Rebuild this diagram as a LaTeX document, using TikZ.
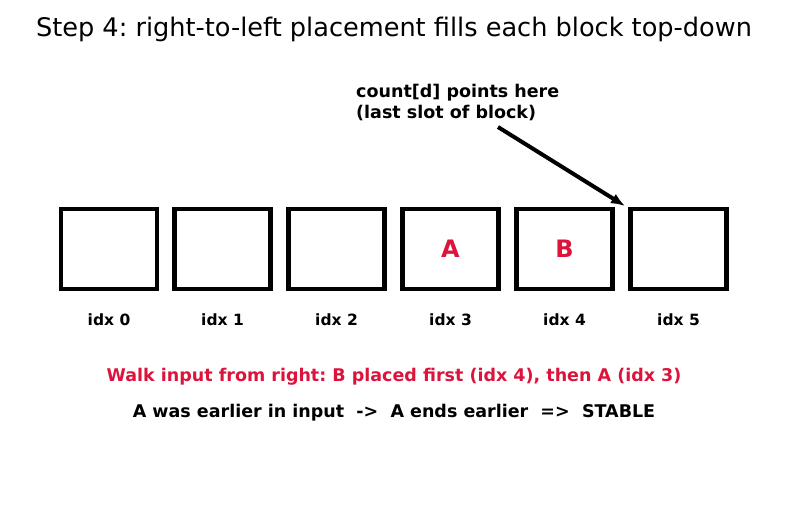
\documentclass[tikz,border=0pt]{standalone}
\usepackage{fontspec}
\setmainfont{DejaVu Sans}
\usetikzlibrary{positioning,arrows.meta}
\definecolor{walkred}{HTML}{DC143C}
\frenchspacing
\tikzset{
  slot/.style={draw,line width=4.5pt,minimum width=96pt,minimum height=80pt,inner sep=0pt},
  idxlabel/.style={font=\fontsize{15.5}{18}\selectfont\bfseries},
  letter/.style={font=\fontsize{24}{27}\selectfont\bfseries,text=walkred},
}
\begin{document}
\begin{tikzpicture}[>=Stealth,x=1pt,y=-1pt]
  \useasboundingbox (0,0) rectangle (787,512);
  \node[font=\fontsize{25.6}{29}\selectfont] (title) at (394,29) {Step 4: right-to-left placement fills each block top-down};
  % slots of the output array
  \foreach \i/\x in {0/109,1/222.5,2/336.5,3/450.5,4/564.5,5/678.5} {
    \node[slot] (s\i) at (\x,249) {};
    \node[idxlabel] (l\i) at (\x,320) {idx \i};
  }
  \node[letter] (a) at (s3) {A};
  \node[letter] (b) at (s4) {B};
  \node[font=\fontsize{17.5}{21}\selectfont\bfseries,align=left,anchor=north west,inner sep=0pt] (note) at (356,84)
    {count[d] points here\\(last slot of block)};
  \coordinate (tail) at (498,127);
  \coordinate (tip) at (625,206);
  \draw[-{Latex[length=14pt,width=11pt]},line width=4pt] (tail) -- (tip);
  \node[font=\fontsize{17.5}{20}\selectfont\bfseries,text=walkred] (walk) at (394,377)
    {Walk input from right: B placed first (idx 4), then A (idx 3)};
  \node[font=\fontsize{17.5}{20}\selectfont\bfseries] (stable) at (394,413)
    {A was earlier in input\ \ ->\ \ A ends earlier\ \ =>\ \ STABLE};
\end{tikzpicture}
\end{document}
